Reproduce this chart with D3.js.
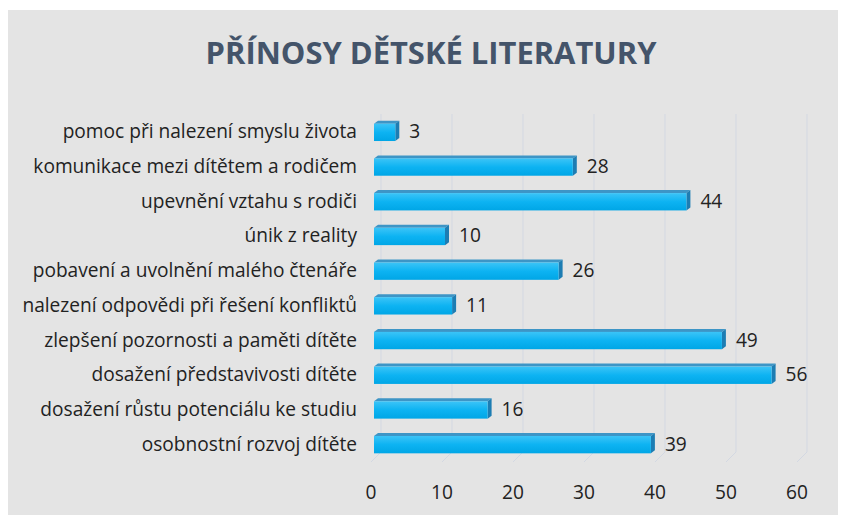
<!DOCTYPE html>
<html>
<head>
<meta charset="utf-8">
<script src="https://cdn.jsdelivr.net/npm/d3@7"></script>
<style>
  body { margin: 0; background: #fff; }
  text { font-family: "Open Sans", "Noto Sans", sans-serif; }
</style>
</head>
<body>
<div id="chart"></div>
<script>
// chart data, top to bottom
const categories = [
    "pomoc při nalezení smyslu života",
    "komunikace mezi dítětem a rodičem",
    "upevnění vztahu s rodiči",
    "únik z reality",
    "pobavení a uvolnění malého čtenáře",
    "nalezení odpovědi při řešení konfliktů",
    "zlepšení pozornosti a paměti dítěte",
    "dosažení představivosti dítěte",
    "dosažení růstu potenciálu ke studiu",
    "osobnostní rozvoj dítěte"
]
const values = [3, 28, 44, 10, 26, 11, 49, 56, 16, 39]
const ticks = [0, 10, 20, 30, 40, 50, 60]
const title = "PŘÍNOSY DĚTSKÉ LITERATURY"

const W = 841, H = 515
const depth = 10   // 3d offset between floor front and back wall

const svg = d3.select("#chart").append("svg")
    .attr("width", W)
    .attr("height", H)

const defs = svg.append("defs")
const grad = defs.append("linearGradient")
    .attr("id", "barFront").attr("x1", 0).attr("y1", 0).attr("x2", 0).attr("y2", 1)
grad.append("stop").attr("offset", "0%").attr("stop-color", "#3cc4f7")
grad.append("stop").attr("offset", "50%").attr("stop-color", "#0db3f2")
grad.append("stop").attr("offset", "100%").attr("stop-color", "#00a6e6")

// background panel
svg.append("rect")
    .attr("x", 8).attr("y", 10)
    .attr("width", 830).attr("height", 505)
    .attr("fill", "#e4e4e4")

const titleText = svg.append("text")
    .attr("x", 431).attr("y", 64)
    .attr("text-anchor", "middle")
    .attr("font-size", 32)
    .attr("font-weight", "bold")
    .attr("fill", "#44546a")
    .text(title)
// fit title to the width seen in the picture
const tw = titleText.node().getComputedTextLength()
titleText.attr("font-size", 32 * 451 / tw)

// front (floor edge) scale
const x = d3.scaleLinear().domain([0, 60]).range([371, 797])
const y = d3.scaleBand().domain(categories).range([115, 462]).paddingInner(0.5).paddingOuter(0.25)

// gridlines: back wall vertical + floor diagonal
const grid = svg.append("g")
ticks.forEach(t => {
    grid.append("path")
        .attr("d", `M${x(t) + depth},114 L${x(t) + depth},452 L${x(t)},462`)
        .attr("fill", "none")
        .attr("stroke", "#d3d8e2")
        .attr("stroke-width", 1)
})

// category labels
let fs = 16
const catLabels = svg.append("g").selectAll("text")
    .data(categories)
    .join("text")
    .attr("x", 357)
    .attr("y", d => y(d) + y.bandwidth() / 2 + 6)
    .attr("text-anchor", "end")
    .attr("font-size", fs)
    .attr("fill", "#222")
    .text(d => d)
const longest = d3.max(catLabels.nodes(), n => n.getComputedTextLength())
fs = fs * 335 / longest
catLabels.attr("font-size", fs)

// axis tick labels
svg.append("g").selectAll("text")
    .data(ticks)
    .join("text")
    .attr("x", d => x(d))
    .attr("y", 499)
    .attr("text-anchor", "middle")
    .attr("font-size", fs)
    .attr("fill", "#222")
    .text(d => d)

// bars, drawn with a small 3d look
const bx = v => x(v) + 3
const dx = 4, dy = 3
const bars = svg.append("g").selectAll("g")
    .data(categories.map((c, i) => ({c, v: values[i]})))
    .join("g")

bars.append("path") // top face
    .attr("d", d => {
        const y0 = y(d.c)
        return `M${bx(0)},${y0} L${bx(0) + dx},${y0 - dy} L${bx(d.v) + dx},${y0 - dy} L${bx(d.v)},${y0} Z`
    })
    .attr("fill", "#3d95c6")

bars.append("path") // side face
    .attr("d", d => {
        const y0 = y(d.c), y1 = y0 + y.bandwidth()
        return `M${bx(d.v)},${y0} L${bx(d.v) + dx},${y0 - dy} L${bx(d.v) + dx},${y1 - dy} L${bx(d.v)},${y1} Z`
    })
    .attr("fill", "#1d7db3")

bars.append("rect") // front face
    .attr("x", bx(0))
    .attr("y", d => y(d.c))
    .attr("width", d => bx(d.v) - bx(0))
    .attr("height", y.bandwidth())
    .attr("fill", "url(#barFront)")

bars.append("text")
    .attr("x", d => bx(d.v) + dx + 10)
    .attr("y", d => y(d.c) + y.bandwidth() / 2 + 6)
    .attr("font-size", fs)
    .attr("fill", "#222")
    .text(d => d.v)
</script>
</body>
</html>
